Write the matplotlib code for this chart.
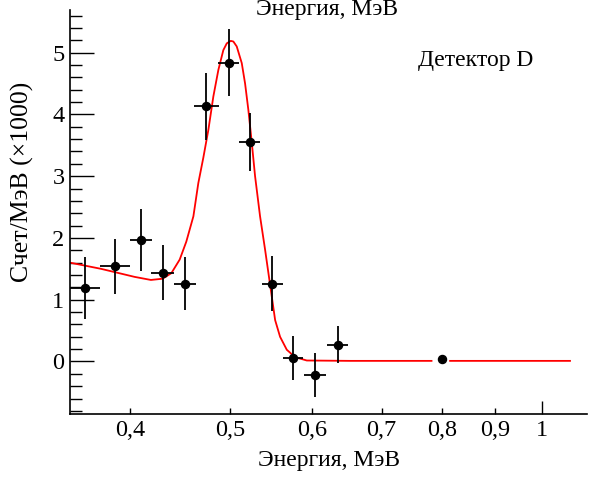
import numpy as np
import matplotlib
matplotlib.use("Agg")
import matplotlib.pyplot as plt

plt.rcParams['font.family'] = ['Liberation Serif', 'DejaVu Serif']

# measured points (energy in MeV, counts/MeV x1000)
energy = [0.362, 0.387, 0.410, 0.430, 0.452, 0.474, 0.498, 0.522, 0.549, 0.575, 0.604, 0.635, 0.801]
energy_err = [0.012, 0.013, 0.010, 0.011, 0.011, 0.013, 0.012, 0.012, 0.013, 0.013, 0.015, 0.015, 0.0]
counts = [1.19, 1.54, 1.97, 1.44, 1.26, 4.13, 4.84, 3.56, 1.26, 0.055, -0.215, 0.27, 0.044]
counts_err = [0.50, 0.45, 0.50, 0.45, 0.43, 0.54, 0.55, 0.47, 0.45, 0.35, 0.36, 0.30, 0.0]

# fit curve (gap around the 0.8 MeV point)
fit_x = [0.350, 0.375, 0.404, 0.419, 0.430, 0.4385, 0.4467, 0.4533, 0.4605, 0.4656,
         0.4708, 0.4761, 0.4814, 0.4868, 0.4922, 0.4960, 0.5004, 0.5033, 0.5071, 0.5128,
         0.5166, 0.5204, 0.5243, 0.5282, 0.5341, 0.5401, 0.5482, 0.5523, 0.5584, 0.5668,
         0.5774, 0.5926, 0.6525, 0.782, 0.800, 0.815, 1.064]
fit_y = [1.60, 1.50, 1.37, 1.32, 1.34, 1.43, 1.65, 1.94, 2.35, 2.89,
         3.30, 3.75, 4.29, 4.72, 5.04, 5.15, 5.19, 5.18, 5.10, 4.83,
         4.50, 4.07, 3.55, 3.00, 2.35, 1.81, 1.05, 0.67, 0.40, 0.19,
         0.07, 0.016, 0.01, 0.01, np.nan, 0.01, 0.01]

x_ticks = [0.4, 0.5, 0.6, 0.7, 0.8, 0.9]
x_tick_labels = ['0,4', '0,5', '0,6', '0,7', '0,8', '0,9']

fig = plt.figure(figsize=(5.96, 4.82), dpi=100)
ax = fig.add_axes([70 / 596, 1 - 414 / 482, 517 / 596, 404 / 482])

ax.plot(fit_x, fit_y, color='red', lw=1.3, zorder=2)
ax.errorbar(energy, counts, xerr=energy_err, yerr=counts_err, fmt='o', color='black',
            ms=5.8, elinewidth=1.3, capsize=0, zorder=3)

ax.set_xscale('log')
ax.set_xlim(0.350, 1.105)
ax.set_ylim(-0.85, 5.69)

ax.set_xticks([1.0], ['1'])
ax.set_xticks(x_ticks, x_tick_labels, minor=True)
ax.set_yticks([0, 1, 2, 3, 4, 5])
ax.set_yticks(np.arange(-0.8, 5.7, 0.2), minor=True)

ax.tick_params(axis='x', which='major', direction='in', length=9.5, width=1, labelsize=17.5, pad=4)
ax.tick_params(axis='x', which='minor', direction='in', length=4.5, width=1, labelsize=17.5, pad=4)
ax.tick_params(axis='y', which='major', direction='in', length=17, width=1, labelsize=17.5, pad=4)
ax.tick_params(axis='y', which='minor', direction='in', length=8.5, width=1)

for side in ['top', 'right']:
    ax.spines[side].set_visible(False)
for side in ['left', 'bottom']:
    ax.spines[side].set_linewidth(1.2)

ax.set_xlabel('Энергия, МэВ', fontsize=17, labelpad=7)
fig.text(22 / 596, 1 - 182 / 482, 'Счет/МэВ (×1000)', rotation=90, fontsize=18.5,
         ha='center', va='center')
fig.text(418 / 596, 1 - 66 / 482, 'Детектор D', fontsize=17, ha='left', va='baseline')
# second copy of the axis title, cut by the top edge
fig.text(327 / 596, 1 - 15 / 482, 'Энергия, МэВ', fontsize=17, ha='center', va='baseline')

fig.savefig('out.png', dpi=100)
